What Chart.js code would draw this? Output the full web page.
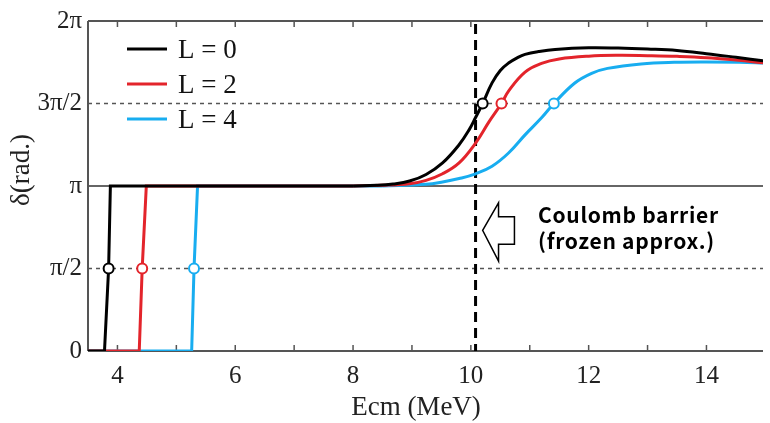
<!DOCTYPE html>
<html>
<head>
<meta charset="utf-8">
<script src="https://cdn.jsdelivr.net/npm/chart.js@4.4.0/dist/chart.umd.min.js"></script>
<style>
  html, body { margin: 0; padding: 0; background: #fff; }
  #wrap { width: 770px; height: 423px; position: relative; }
</style>
</head>
<body>
<div id="wrap"><canvas id="phaseChart"></canvas></div>
<script>
  // ---- DATA (phase shift in units of pi, energy in MeV) ----
  // first 5 points of each series are the low-energy jump 0 -> pi, drawn straight
  const energyL0 = [3.5, 3.78, 3.85, 3.88, 8.0, 8.4, 8.68, 8.96, 9.24, 9.52, 9.80, 9.97, 10.08, 10.20, 10.36, 10.50, 10.64, 10.80, 10.92, 11.15, 11.43, 12.0, 12.5, 13.0, 13.5, 14.0, 14.5, 15.0];
  const deltaL0  = [0, 0, 0.5, 1.0, 1.0, 1.004, 1.012, 1.03, 1.07, 1.14, 1.25, 1.34, 1.415, 1.5, 1.625, 1.70, 1.745, 1.78, 1.798, 1.815, 1.828, 1.838, 1.836, 1.830, 1.821, 1.802, 1.780, 1.757];

  const energyL2 = [3.5, 4.37, 4.42, 4.49, 8.0, 8.5, 8.96, 9.24, 9.52, 9.80, 10.08, 10.31, 10.52, 10.64, 10.92, 11.2, 11.5, 12.0, 12.5, 13.0, 13.5, 14.0, 14.5, 15.0];
  const deltaL2  = [0, 0, 0.5, 1.0, 1.0, 1.004, 1.014, 1.034, 1.074, 1.14, 1.26, 1.39, 1.5, 1.575, 1.69, 1.743, 1.77, 1.787, 1.792, 1.79, 1.786, 1.778, 1.763, 1.745];

  const energyL4 = [3.5, 5.26, 5.30, 5.36, 8.5, 9.24, 9.52, 9.80, 10.08, 10.36, 10.64, 10.92, 11.2, 11.41, 11.76, 12.05, 12.32, 12.89, 13.45, 14.0, 14.56, 15.0];
  const deltaL4  = [0, 0, 0.5, 1.0, 1.0, 1.01, 1.024, 1.045, 1.074, 1.12, 1.20, 1.31, 1.413, 1.5, 1.623, 1.683, 1.713, 1.74, 1.75, 1.752, 1.75, 1.745];

  // energies where delta crosses pi/2 and 3pi/2
  const halfPiCross = [3.85, 4.42, 5.30];
  const threeHalfPiCross = [10.20, 10.52, 11.41];

  const seriesLabels = ['L = 0', 'L = 2', 'L = 4'];
  const seriesColors = ['#000000', '#e3242b', '#18adf0'];

  const xTicks = [4, 6, 8, 10, 12, 14];
  const xMinorTicks = [4, 5, 6, 7, 8, 9, 10, 11, 12, 13, 14];
  const yTicks = [0, 0.5, 1, 1.5, 2];
  const yTickLabels = ['0', 'π/2', 'π', '3π/2', '2π'];

  const barrierE = 10.08;
  const barrierNote = ['Coulomb barrier', '(frozen approx.)'];

  const STEP_PTS = 5;
  const toPts = (xs, ys) => xs.map((x, i) => ({ x, y: ys[i] }));

  const serif = 'Liberation Serif';

  // ---- FRAME: reference lines, borders, inner ticks, barrier ----
  const framePlugin = {
    id: 'frame',
    beforeDatasetsDraw(chart) {
      const { ctx, chartArea: a, scales: { x, y } } = chart;
      ctx.save();
      const hLine = (v, color, width, dash) => {
        ctx.beginPath();
        ctx.setLineDash(dash);
        ctx.strokeStyle = color;
        ctx.lineWidth = width;
        const py = y.getPixelForValue(v);
        ctx.moveTo(a.left, py);
        ctx.lineTo(a.right, py);
        ctx.stroke();
      };
      hLine(0.5, '#555', 1.5, [4, 4]);
      hLine(1.5, '#555', 1.5, [4, 4]);
      hLine(1, '#666', 2, []);
      hLine(0, '#555', 2, []);
      hLine(2, '#555', 2, []);

      // left axis
      ctx.setLineDash([]);
      ctx.strokeStyle = '#555';
      ctx.lineWidth = 2;
      ctx.beginPath();
      ctx.moveTo(a.left, a.top);
      ctx.lineTo(a.left, a.bottom);
      ctx.stroke();

      // inward ticks top and bottom
      ctx.lineWidth = 1.5;
      ctx.beginPath();
      xMinorTicks.forEach(v => {
        const px = x.getPixelForValue(v);
        ctx.moveTo(px, a.bottom);
        ctx.lineTo(px, a.bottom - 6);
        ctx.moveTo(px, a.top);
        ctx.lineTo(px, a.top + 6);
      });
      ctx.stroke();

      // barrier energy
      const bx = x.getPixelForValue(barrierE);
      ctx.setLineDash([10, 6]);
      ctx.strokeStyle = '#000';
      ctx.lineWidth = 3;
      ctx.beginPath();
      ctx.moveTo(bx, a.top + 3);
      ctx.lineTo(bx, a.bottom);
      ctx.stroke();
      ctx.restore();
    },
    afterDraw(chart) {
      const { ctx, scales: { x, y } } = chart;
      ctx.save();

      // legend
      ctx.textBaseline = 'middle';
      ctx.font = `27px "${serif}"`;
      seriesLabels.forEach((lbl, i) => {
        const ly = 49 + i * 35;
        ctx.strokeStyle = seriesColors[i];
        ctx.lineWidth = 3;
        ctx.beginPath();
        ctx.moveTo(127, ly);
        ctx.lineTo(167, ly);
        ctx.stroke();
        ctx.fillStyle = '#111';
        ctx.fillText(lbl, 178, ly + 2);
      });

      // arrow pointing at the barrier line
      const P = (ex, d) => [x.getPixelForValue(ex), y.getPixelForValue(d)];
      const arrow = [P(10.20, 0.731), P(10.47, 0.898), P(10.47, 0.814), P(10.74, 0.814),
                     P(10.74, 0.647), P(10.47, 0.647), P(10.47, 0.545)];
      ctx.beginPath();
      arrow.forEach(([px, py], i) => i ? ctx.lineTo(px, py) : ctx.moveTo(px, py));
      ctx.closePath();
      ctx.fillStyle = '#fff';
      ctx.fill();
      ctx.strokeStyle = '#000';
      ctx.lineWidth = 1.5;
      ctx.stroke();

      // note text
      ctx.fillStyle = '#000';
      ctx.textBaseline = 'alphabetic';
      ctx.font = 'bold 21px "Noto Sans CJK JP"';
      ctx.letterSpacing = '0.7px';
      const tx = x.getPixelForValue(11.14);
      ctx.fillText(barrierNote[0], tx, 223);
      ctx.fillText(barrierNote[1], tx, 249);
      ctx.letterSpacing = '0px';

      // axis titles
      ctx.font = `27px "${serif}"`;
      ctx.fillStyle = '#222';
      ctx.textAlign = 'center';
      ctx.fillText('Ecm (MeV)', 416, 415);
      ctx.translate(22, 170);
      ctx.rotate(-Math.PI / 2);
      ctx.textBaseline = 'middle';
      ctx.fillText('δ(rad.)', 0, 0);
      ctx.restore();
    }
  };

  const series = [[energyL0, deltaL0], [energyL2, deltaL2], [energyL4, deltaL4]];

  // straight jump part and smooth resonance part of each curve
  const stepSets = series.map(([xs, ys], i) => ({
    label: seriesLabels[i] + ' jump',
    data: toPts(xs.slice(0, STEP_PTS), ys.slice(0, STEP_PTS)),
    borderColor: seriesColors[i],
    borderWidth: 3,
    pointRadius: 0,
    tension: 0,
    order: i
  }));
  const smoothSets = series.map(([xs, ys], i) => ({
    label: seriesLabels[i],
    data: toPts(xs.slice(STEP_PTS - 1), ys.slice(STEP_PTS - 1)),
    borderColor: seriesColors[i],
    borderWidth: 3,
    pointRadius: 0,
    tension: 0.4,
    order: i
  }));

  const markerSets = seriesLabels.map((lbl, i) => ({
    label: lbl + ' crossings',
    data: [{ x: halfPiCross[i], y: 0.5 }, { x: threeHalfPiCross[i], y: 1.5 }],
    showLine: false,
    pointRadius: 5,
    pointBackgroundColor: '#fff',
    pointBorderColor: seriesColors[i],
    pointBorderWidth: 2,
    order: -1
  }));

  const tickFont = { family: serif, size: 25 };

  new Chart(document.getElementById('phaseChart'), {
    type: 'line',
    data: { datasets: [...smoothSets, ...stepSets, ...markerSets] },
    options: {
      responsive: true,
      maintainAspectRatio: false,
      animation: false,
      layout: { padding: { top: 17, right: 0, left: 0, bottom: 0 } },
      plugins: { legend: { display: false }, tooltip: { enabled: false } },
      scales: {
        x: {
          type: 'linear',
          min: 3.5,
          max: 14.96,
          grid: { display: false, drawTicks: false },
          border: { display: false },
          ticks: { font: tickFont, color: '#222', padding: 10, maxRotation: 0 },
          afterBuildTicks: s => { s.ticks = xTicks.map(v => ({ value: v })); },
          afterFit: s => { s.height = 72; }
        },
        y: {
          min: 0,
          max: 2,
          grid: { display: false, drawTicks: false },
          border: { display: false },
          ticks: {
            font: tickFont,
            color: '#222',
            padding: 6,
            callback: v => yTickLabels[yTicks.indexOf(v)]
          },
          afterBuildTicks: s => { s.ticks = yTicks.map(v => ({ value: v })); },
          afterFit: s => { s.width = 88; }
        }
      }
    },
    plugins: [framePlugin]
  });
</script>
</body>
</html>
